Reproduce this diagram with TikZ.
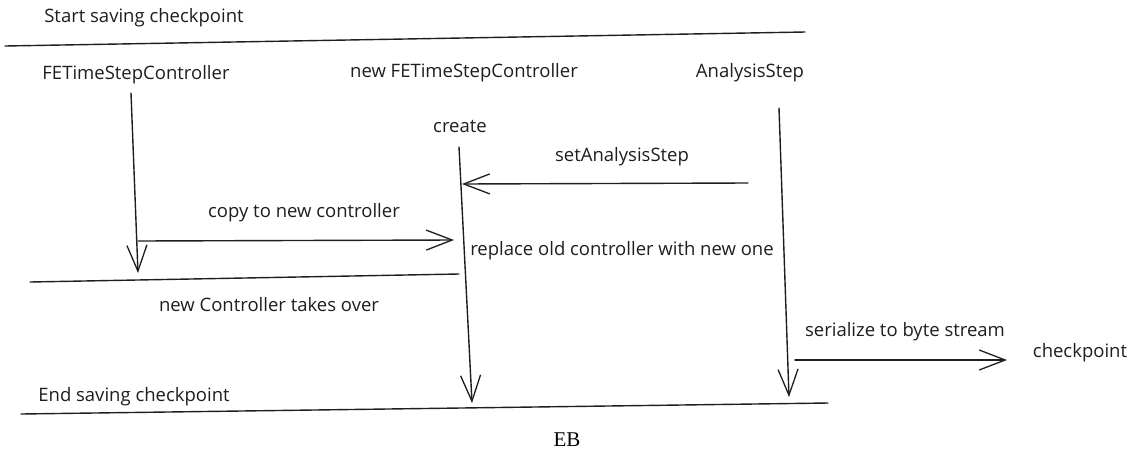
\documentclass[tikz,border=0pt]{standalone}
\usepackage{fontspec}
\setmainfont{Open Sans}
\newfontfamily\labelserif{Liberation Serif}
\usetikzlibrary{arrows.meta}
\definecolor{ink}{HTML}{1E1E1E}
\tikzset{
  sketchline/.style={draw=ink, line width=1.4pt, line cap=round},
  msgarrow/.style={sketchline, -{Straight Barb[length=26pt, width=20pt, line width=1.3pt]}},
  lbl/.style={text=ink, font=\fontsize{18.5}{20}\selectfont, inner sep=0pt},
}
\begin{document}
\begin{tikzpicture}[x=1pt, y=-1pt]
  \useasboundingbox (0,0) rectangle (1131,461);

  % phase separators
  \coordinate (topL) at (5,46);   \coordinate (topR) at (805,32);
  \coordinate (midL) at (30,282); \coordinate (midR) at (459,274);
  \coordinate (botL) at (21,414); \coordinate (botR) at (828,403);
  \draw[sketchline] (topL) -- (topR);
  \draw[sketchline] (midL) -- (midR);
  \draw[sketchline] (botL) -- (botR);

  % phase labels
  \node[lbl] (start) at (144,18) {Start saving checkpoint};
  \node[lbl] (takeover) at (269,305) {new Controller takes over};
  \node[lbl] (endsave) at (134,397) {End saving checkpoint};

  % participants
  \node[lbl] (oldctl) at (136,75) {FETimeStepController};
  \node[lbl] (newctl) at (464,73) {new FETimeStepController};
  \node[lbl] (astep)  at (750,73) {AnalysisStep};
  \node[lbl] (create) at (460,126) {create};

  % lifelines
  \coordinate (l1a) at (131,93);  \coordinate (l1b) at (138,273);
  \coordinate (l2a) at (459,147); \coordinate (l2b) at (472,403);
  \coordinate (l3a) at (779,108); \coordinate (l3b) at (789,397);
  \draw[msgarrow] (l1a) -- (l1b);
  \draw[msgarrow] (l2a) -- (l2b);
  \draw[msgarrow] (l3a) -- (l3b);

  % messages
  \coordinate (setA) at (748,183); \coordinate (setB) at (462,184);
  \draw[msgarrow] (setA) -- (setB);
  \node[lbl] (setlbl) at (622,157) {setAnalysisStep};

  \coordinate (cpA) at (138,241); \coordinate (cpB) at (454,240);
  \draw[msgarrow] (cpA) -- (cpB);
  \node[lbl] (cplbl) at (304,213) {copy to new controller};

  \node[lbl] (replace) at (622,251) {replace old controller with new one};

  \coordinate (serA) at (795,360);
  \node[lbl] (chk) at (1080,353) {checkpoint};
  \coordinate (serB) at (1007,360);
  \draw[msgarrow] (serA) -- (serB);
  \node[lbl] (serlbl) at (905,332) {serialize to byte stream};

  % caption
  \node[text=black, font=\labelserif\fontsize{21}{23}\selectfont, inner sep=0pt] (cap) at (567,440) {EB};
\end{tikzpicture}
\end{document}
